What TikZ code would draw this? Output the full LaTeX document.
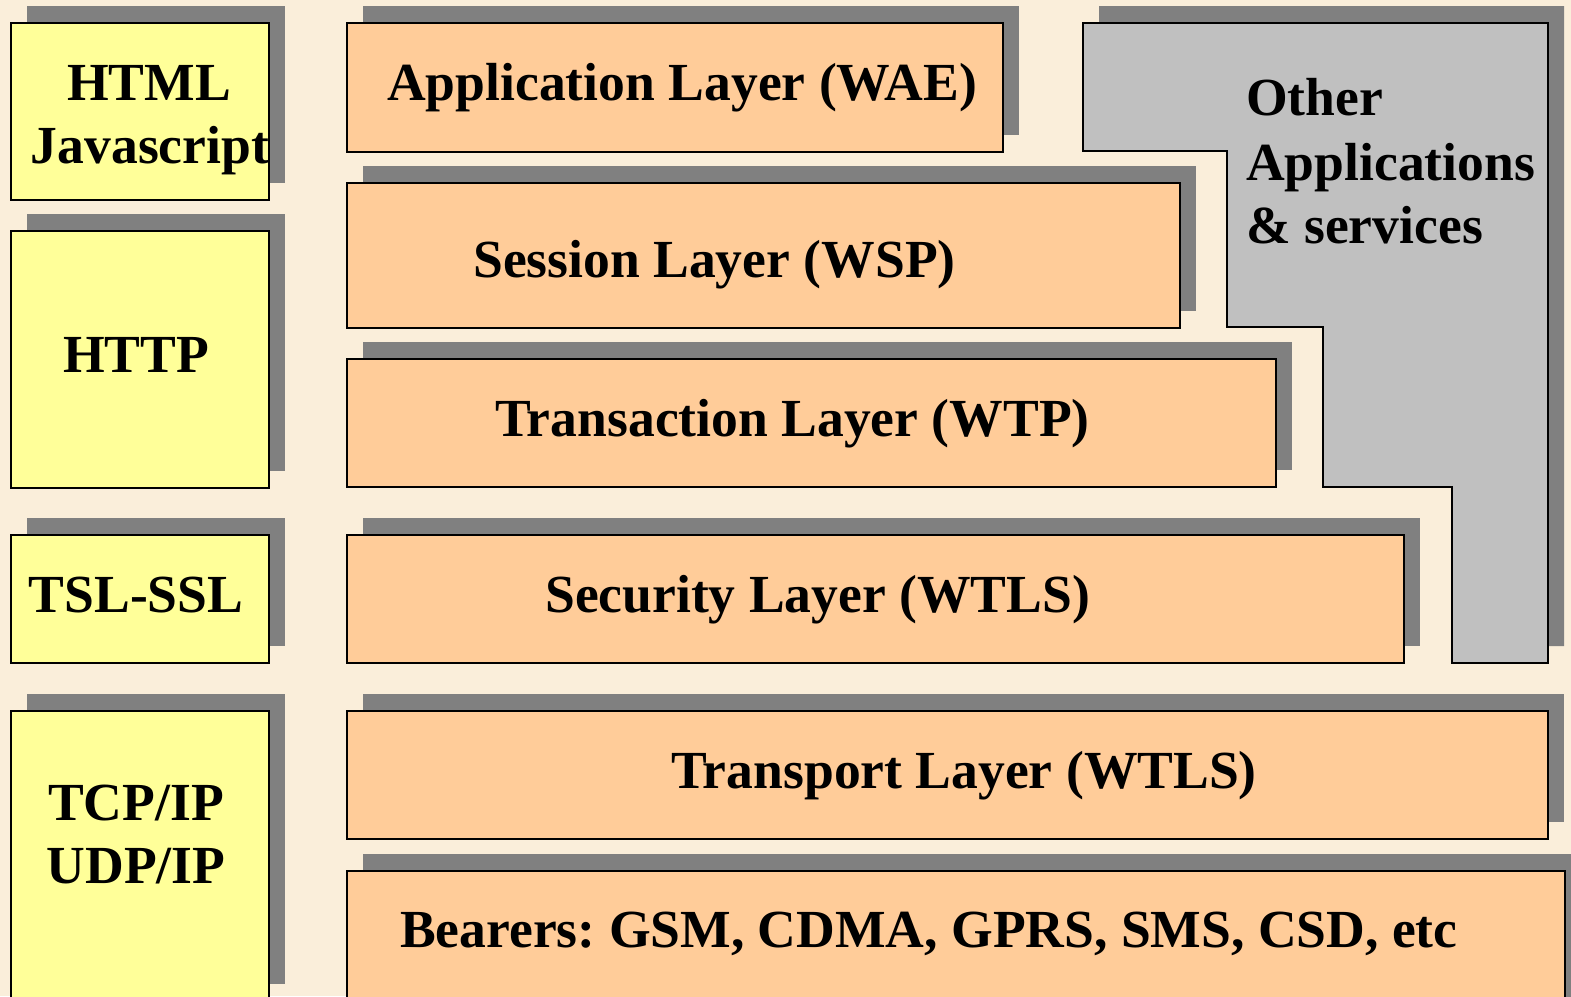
\documentclass[tikz,border=0pt]{standalone}
\usepackage{fontspec}
\setmainfont{Liberation Serif}
\frenchspacing
\definecolor{bgc}{RGB}{250,238,218}
\definecolor{shc}{RGB}{128,128,128}
\definecolor{yel}{RGB}{255,255,153}
\definecolor{ora}{RGB}{255,204,153}
\definecolor{gry}{RGB}{192,192,192}
\tikzset{
  shadowfill/.style={fill=shc},
  ybox/.style={draw=black, line width=2pt, fill=yel},
  obox/.style={draw=black, line width=2pt, fill=ora},
  gbox/.style={draw=black, line width=2pt, fill=gry},
  lbl/.style={inner sep=0pt, anchor=base, font=\fontsize{53.6}{64}\selectfont\bfseries},
  lblw/.style={inner sep=0pt, anchor=base west, font=\fontsize{53.6}{64}\selectfont\bfseries}
}
\begin{document}
\begin{tikzpicture}[x=1pt,y=-1pt]
\useasboundingbox (0,0) rectangle (1571,996);
\clip (0,0) rectangle (1571,996);
\fill[bgc] (0,0) rectangle (1571,996);
% left column
\fill[shadowfill] (27,6) rectangle (285,183);
\draw[ybox] (11,23) rectangle (269,200);
\fill[shadowfill] (27,214) rectangle (285,471);
\draw[ybox] (11,231) rectangle (269,488);
\fill[shadowfill] (27,518) rectangle (285,646);
\draw[ybox] (11,535) rectangle (269,663);
\fill[shadowfill] (27,694) rectangle (285,984);
\draw[ybox] (11,711) rectangle (269,1010);
% orange stack
\fill[shadowfill] (363,6) rectangle (1019,135);
\draw[obox] (347,23) rectangle (1003,152);
\fill[shadowfill] (363,166) rectangle (1196,311);
\draw[obox] (347,183) rectangle (1180,328);
\fill[shadowfill] (363,342) rectangle (1292,470);
\draw[obox] (347,359) rectangle (1276,487);
\fill[shadowfill] (363,518) rectangle (1420,646);
\draw[obox] (347,535) rectangle (1404,663);
\fill[shadowfill] (363,694) rectangle (1564,822);
\draw[obox] (347,711) rectangle (1548,839);
\fill[shadowfill] (363,854) rectangle (1590,1010);
\draw[obox] (347,871) rectangle (1565,1020);
% other applications
\fill[shadowfill, shift={(16,-17)}] (1083,23) -- (1548,23) -- (1548,663) -- (1452,663) -- (1452,487) -- (1323,487) -- (1323,327) -- (1227,327) -- (1227,151) -- (1083,151) -- cycle;
\draw[gbox] (1083,23) -- (1548,23) -- (1548,663) -- (1452,663) -- (1452,487) -- (1323,487) -- (1323,327) -- (1227,327) -- (1227,151) -- (1083,151) -- cycle;
% labels
\node[lbl] (html) at (149,100) {HTML};
\node[lbl] (js) at (150,163) {Javascript};
\node[lbl] (http) at (136,372) {HTTP};
\node[lbl] (tsl) at (136,612) {TSL-SSL};
\node[lbl] (tcp) at (136,820) {TCP/IP};
\node[lbl] (udp) at (136,883) {UDP/IP};
\node[lblw] (wae) at (387,100) {Application Layer (WAE)};
\node[lblw] (wsp) at (473,277) {Session Layer (WSP)};
\node[lblw] (wtp) at (495,436) {Transaction Layer (WTP)};
\node[lblw] (wtls) at (545,612) {Security Layer (WTLS)};
\node[lblw] (trans) at (671,788) {Transport Layer (WTLS)};
\node[lblw] (bear) at (400,947) {Bearers: GSM, CDMA, GPRS, SMS, CSD, etc};
\node[lblw] (oth1) at (1246,115) {Other};
\node[lblw] (oth2) at (1246,180) {Applications};
\node[lblw] (oth3) at (1246,243) {\&\ services};
\end{tikzpicture}
\end{document}
